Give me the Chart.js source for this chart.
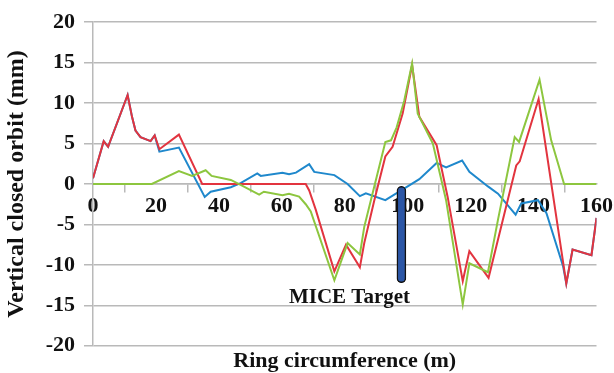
<!DOCTYPE html>
<html>
<head>
<meta charset="utf-8">
<script src="https://cdn.jsdelivr.net/npm/chart.js@4/dist/chart.umd.min.js"></script>
<style>
  html, body { margin: 0; padding: 0; background: #fff; }
  #wrap { width: 614px; height: 373px; }
</style>
</head>
<body>
<div id="wrap"><canvas id="orbit"></canvas></div>
<script>
// orbit traces, [position along ring (m), vertical offset (mm)]
const redOrbit = [
  [0, 0.7], [3.4, 5.3], [4.8, 4.6], [11, 11.0], [12.4, 8.3], [13.5, 6.6], [15.1, 5.8],
  [18.3, 5.3], [19.6, 6.0], [21.1, 4.3], [27.3, 6.1], [34.7, 0], [67.6, 0], [68.7, -0.8],
  [70.8, -3.2], [76.7, -10.8], [80.4, -7.5], [84.8, -10.3], [86.2, -7.3], [89.4, -2],
  [92.9, 3.4], [95.2, 4.6], [98.4, 8.7], [101.4, 14.7], [103.7, 8.3], [109.2, 4.8],
  [112.7, -1.6], [117.5, -12], [119.6, -8.3], [125.7, -11.6], [134.5, 2.3], [135.6, 2.8],
  [141.6, 10.5], [150.4, -12.3], [152.4, -8.1], [158.4, -8.8], [160, -4.2]
];
const blueOrbit = [
  [0, 0.7], [3.4, 5.3], [4.8, 4.6], [11, 11.0], [12.4, 8.3], [13.5, 6.6], [15.1, 5.8],
  [18.3, 5.3], [19.6, 6.0], [21.1, 4.0], [27.3, 4.5], [35.5, -1.6], [37.4, -0.95],
  [43.8, -0.4], [46.9, 0.1], [52.2, 1.3], [53.3, 1.0], [60.2, 1.4], [62.3, 1.2],
  [64.5, 1.4], [68.7, 2.45], [70.3, 1.5], [76.7, 1.1], [80.9, 0], [84.8, -1.5],
  [86.7, -1.15], [92.9, -2.0], [100, -0.3], [103.7, 0.6], [109.2, 2.6], [112.2, 2.05],
  [117.3, 2.9], [119.6, 1.5], [125.5, -0.3], [128.7, -1.2], [134.3, -3.8], [136.1, -2.4],
  [141.4, -2.0], [144.1, -3.6], [149.4, -10.2], [150.4, -12.3], [152.4, -8.1],
  [158.4, -8.8], [160, -4.2]
];
const greenOrbit = [
  [0, 0], [18.7, 0], [27.3, 1.6], [31.5, 1.0], [35.8, 1.7], [37.7, 1.0], [43.8, 0.5],
  [46.9, -0.1], [52.8, -1.3], [54.3, -0.95], [60.2, -1.4], [62.3, -1.2], [65.5, -1.55],
  [67.6, -2.5], [69.2, -3.4], [76.7, -11.9], [80.9, -7.3], [84.8, -8.7], [86.2, -5.3],
  [88.3, -2], [92.9, 5.2], [94.7, 5.4], [96.5, 7.0], [98.9, 10.3], [101.4, 14.9],
  [103.2, 8.7], [108, 5.0], [112.2, -2.0], [117.5, -14.9], [119.6, -9.8], [125.5, -10.9],
  [128.7, -4.4], [134, 5.8], [135.4, 5.2], [141.9, 12.9], [145.6, 5.4], [149.7, 0], [160, 0]
];
// target marker: position and vertical extent
const targetAt = [98];
const targetSpan = [[-12.2, -0.3]];
const targetLabel = 'MICE Target';
const targetLabelAt = [81.5, -14.1];

const xTicks = [0, 160, 20];
const yTicks = [-20, 20, 5];

const serif = '"Liberation Serif", "Times New Roman", serif';
const gridGray = '#b9b9b9';

const toPts = arr => arr.map(p => ({ x: p[0], y: p[1] }));

const targetText = {
  id: 'targetText',
  afterDatasetsDraw(chart) {
    const { ctx, scales } = chart;
    ctx.save();
    ctx.font = 'bold 21px ' + serif;
    ctx.fillStyle = '#111';
    ctx.textAlign = 'center';
    ctx.textBaseline = 'middle';
    ctx.fillText(targetLabel, scales.x.getPixelForValue(targetLabelAt[0]), scales.y.getPixelForValue(targetLabelAt[1]));
    ctx.restore();
  }
};

new Chart(document.getElementById('orbit'), {
  type: 'line',
  data: {
    datasets: [
      {
        type: 'bar',
        data: targetAt.map((x, i) => ({ x: x, y: targetSpan[i] })),
        backgroundColor: '#2b56a6',
        borderColor: '#111',
        borderWidth: 1.5,
        borderRadius: 5,
        borderSkipped: false,
        barThickness: 9,
        order: 0
      },
      { data: toPts(blueOrbit), borderColor: '#1f88cc', order: 3 },
      { data: toPts(redOrbit), borderColor: '#e2343f', order: 2 },
      { data: toPts(greenOrbit), borderColor: '#8dc63f', order: 1 }
    ]
  },
  options: {
    responsive: true,
    maintainAspectRatio: false,
    animation: false,
    layout: { padding: { top: 22, right: 17, left: 0, bottom: 0 } },
    elements: {
      line: { borderWidth: 2, tension: 0, fill: false },
      point: { radius: 0 }
    },
    plugins: {
      legend: { display: false },
      tooltip: { enabled: false },
      title: {
        display: true,
        position: 'bottom',
        fullSize: false,
        text: 'Ring circumference (m)',
        color: '#111',
        font: { family: serif, size: 22, weight: 'bold', lineHeight: 1.1 },
        padding: { top: 3, bottom: 0 }
      }
    },
    scales: {
      x: {
        type: 'linear',
        position: { y: 0 },
        min: xTicks[0],
        max: xTicks[1],
        offset: false,
        ticks: {
          stepSize: xTicks[2],
          color: '#111',
          font: { family: serif, size: 22, weight: 'bold' },
          padding: 1,
          maxRotation: 0
        },
        grid: { drawOnChartArea: false, color: gridGray, lineWidth: 1.5, tickLength: 8 },
        border: { color: gridGray, width: 1.5 }
      },
      y: {
        min: yTicks[0],
        max: yTicks[1],
        afterFit(scale) { scale.width = 93; },
        ticks: {
          stepSize: yTicks[2],
          color: '#111',
          font: { family: serif, size: 22, weight: 'bold' },
          padding: 9
        },
        grid: { color: gridGray, lineWidth: 1.5, tickLength: 9 },
        border: { color: gridGray, width: 1.5 },
        title: {
          display: true,
          text: 'Vertical closed orbit (mm)',
          color: '#111',
          font: { family: serif, size: 24, weight: 'bold', lineHeight: 1.1 },
          padding: { top: 4, bottom: 0 }
        }
      }
    }
  },
  plugins: [targetText]
});
</script>
</body>
</html>
